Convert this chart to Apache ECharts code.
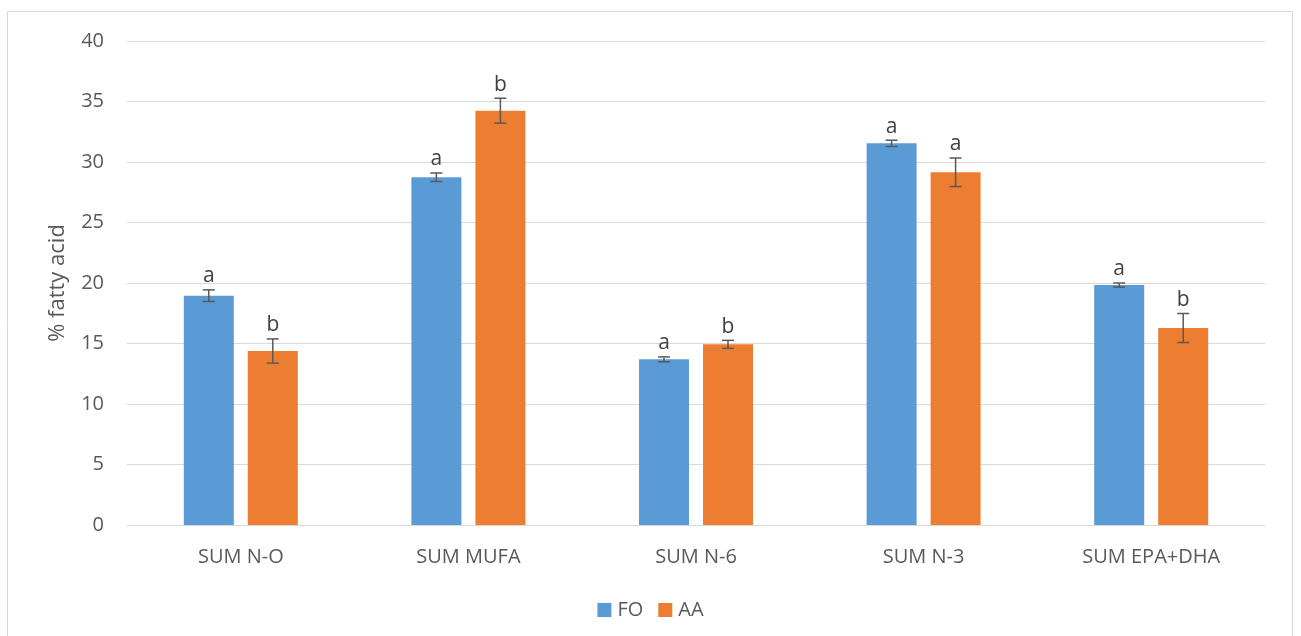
<!DOCTYPE html>
<html>
<head>
<meta charset="utf-8">
<script src="https://cdn.jsdelivr.net/npm/echarts@6/dist/echarts.min.js"></script>
<style>
  html, body { margin: 0; padding: 0; background: #fff; }
  #chart { width: 1301px; height: 636px; }
</style>
</head>
<body>
<div id="chart"></div>
<script>
// Fatty acid composition (% of total fatty acids), mean ± error
const categories = ['SUM N-O', 'SUM MUFA', 'SUM N-6', 'SUM N-3', 'SUM EPA+DHA'];
const seriesNames = ['FO', 'AA'];
const foValues = [18.95, 28.74, 13.69, 31.54, 19.83];
const aaValues = [14.38, 34.24, 14.93, 29.15, 16.28];
const foErrors = [0.48, 0.35, 0.2, 0.26, 0.17];
const aaErrors = [1.0, 1.03, 0.33, 1.18, 1.2];
const foLetters = ['a', 'a', 'a', 'a', 'a'];
const aaLetters = ['b', 'b', 'b', 'a', 'b'];
const yTicks = [0, 5, 10, 15, 20, 25, 30, 35, 40];

const FONT = '"Open Sans", "Noto Sans", sans-serif';
const TEXT = '#595959';
const BAR_W = 50;
const BAR_GAP = 14;

function errorSeries(name, values, errors, letters, offset) {
  return {
    name: name + ' error',
    type: 'custom',
    z: 5,
    silent: true,
    data: values.map((v, i) => [i, v, errors[i]]),
    renderItem: function (params, api) {
      const idx = api.value(0);
      const mean = api.value(1);
      const err = api.value(2);
      const letter = letters[idx];
      const top = api.coord([idx, mean + err]);
      const bot = api.coord([idx, mean - err]);
      const x = top[0] + offset;
      const cap = 6;
      const style = { stroke: '#595959', lineWidth: 1.5 };
      return {
        type: 'group',
        children: [
          { type: 'line', shape: { x1: x, y1: top[1], x2: x, y2: bot[1] }, style: style },
          { type: 'line', shape: { x1: x - cap, y1: top[1], x2: x + cap, y2: top[1] }, style: style },
          { type: 'line', shape: { x1: x - cap, y1: bot[1], x2: x + cap, y2: bot[1] }, style: style },
          {
            type: 'text',
            style: {
              text: letter, x: x, y: top[1] - 3,
              align: 'center', verticalAlign: 'bottom',
              fill: '#404040', font: '21px ' + FONT
            }
          }
        ]
      };
    }
  };
}

const chart = echarts.init(document.getElementById('chart'), null, { renderer: 'canvas' });
chart.setOption({
  animation: false,
  backgroundColor: '#fff',
  graphic: [{
    type: 'rect',
    shape: { x: 7.5, y: 11.5, width: 1285, height: 640 },
    style: { fill: 'none', stroke: '#D9D9D9', lineWidth: 1 },
    silent: true
  }],
  grid: { left: 127, right: 36, top: 41, bottom: 111 },
  legend: {
    data: seriesNames,
    top: 595,
    left: 'center',
    itemWidth: 14,
    itemHeight: 14,
    itemGap: 15,
    icon: 'rect',
    textStyle: { color: TEXT, fontSize: 20, fontFamily: FONT, padding: [0, 0, 0, 1] }
  },
  xAxis: {
    type: 'category',
    data: categories,
    axisLine: { lineStyle: { color: '#D9D9D9', width: 1 } },
    axisTick: { show: false },
    axisLabel: { color: TEXT, fontSize: 20, fontFamily: FONT, margin: 22 }
  },
  yAxis: {
    type: 'value',
    min: yTicks[0],
    max: yTicks[yTicks.length - 1],
    interval: 5,
    name: '% fatty acid',
    nameLocation: 'middle',
    nameGap: 58,
    nameRotate: 90,
    nameTextStyle: { color: TEXT, fontSize: 22, fontFamily: FONT },
    axisLine: { show: false },
    axisTick: { show: false },
    splitLine: { lineStyle: { color: '#D9D9D9', width: 1 } },
    axisLabel: { color: TEXT, fontSize: 20, fontFamily: FONT, margin: 23 }
  },
  series: [
    {
      name: 'FO', type: 'bar', data: foValues,
      barWidth: BAR_W, barGap: (BAR_GAP / BAR_W * 100) + '%',
      itemStyle: { color: '#5B9BD5' }
    },
    {
      name: 'AA', type: 'bar', data: aaValues,
      barWidth: BAR_W,
      itemStyle: { color: '#ED7D31' }
    },
    errorSeries('FO', foValues, foErrors, foLetters, -(BAR_W + BAR_GAP) / 2),
    errorSeries('AA', aaValues, aaErrors, aaLetters, (BAR_W + BAR_GAP) / 2)
  ]
});
</script>
</body>
</html>
